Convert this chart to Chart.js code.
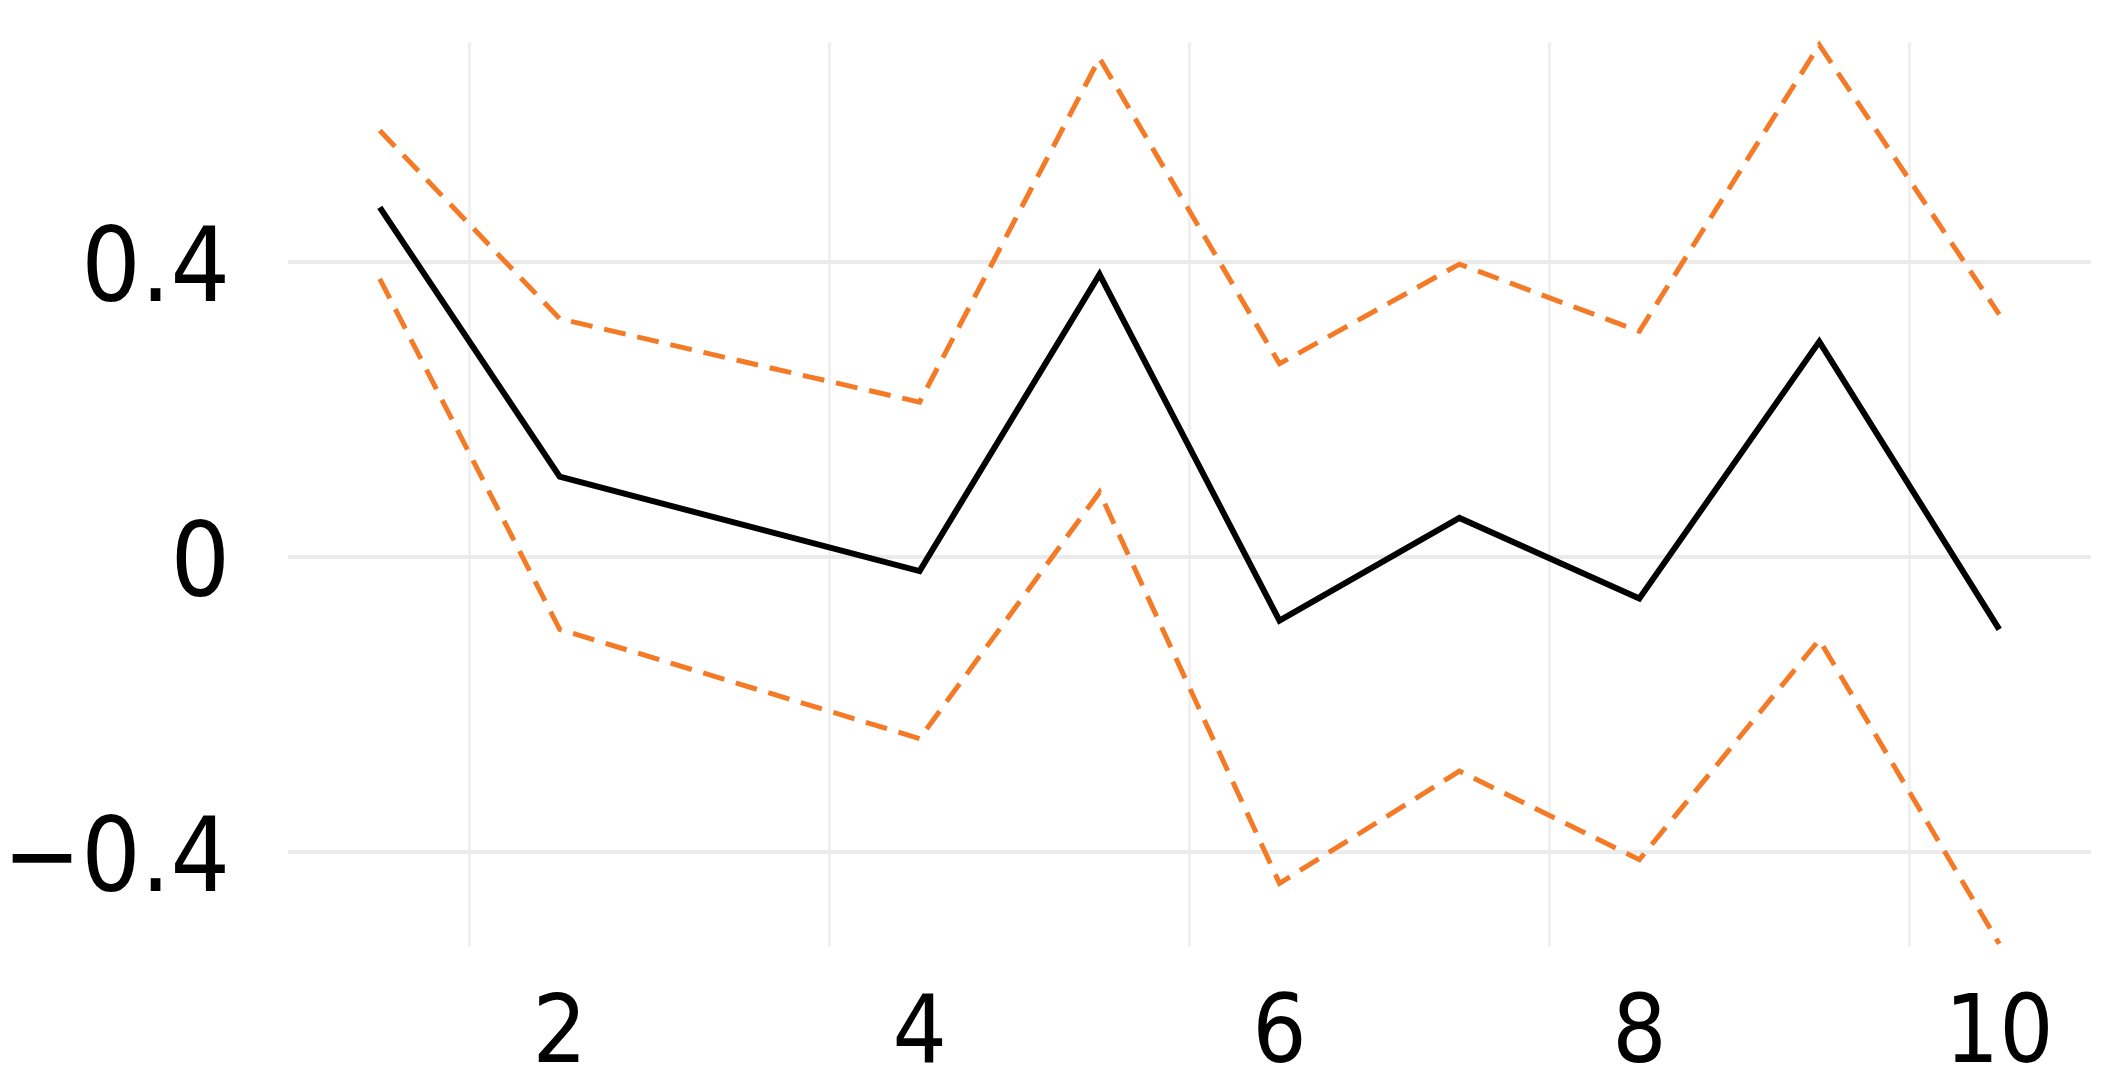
<!DOCTYPE html>
<html>
<head>
<meta charset="utf-8">
<script src="https://cdn.jsdelivr.net/npm/chart.js@4/dist/chart.umd.min.js"></script>
<style>
  html, body { margin: 0; padding: 0; background: #fff; }
  #wrap { width: 2124px; height: 1088px; }
</style>
</head>
<body>
<div id="wrap"><canvas id="chart"></canvas></div>
<script>
// Values
const xValues = [1, 2, 3, 4, 5, 6, 7, 8, 9, 10];
const estimate = [0.474, 0.109, 0.045, -0.019, 0.383, -0.086, 0.053, -0.056, 0.292, -0.098];
const upperBand = [0.578, 0.323, 0.266, 0.210, 0.676, 0.262, 0.397, 0.306, 0.694, 0.329];
const lowerBand = [0.377, -0.098, -0.172, -0.246, 0.088, -0.442, -0.290, -0.410, -0.112, -0.524];

const xTickLabels = [2, 4, 6, 8, 10];
const xGridLines = [1.5, 3.5, 5.5, 7.5, 9.5];
const yTickValues = [-0.4, 0, 0.4];

const ORANGE = "rgb(245,122,38)";
const FONT = "'Liberation Sans Narrow', 'DejaVu Sans Condensed', 'Liberation Sans', sans-serif";

function toPoints(ys) {
  return xValues.map((x, i) => ({ x: x, y: ys[i] }));
}

const ctx = document.getElementById("chart").getContext("2d");

new Chart(ctx, {
  type: "line",
  data: {
    datasets: [
      {
        label: "upper",
        data: toPoints(upperBand),
        borderColor: ORANGE,
        borderWidth: 5,
        borderDash: [22, 12],
        pointRadius: 0,
        fill: false,
      },
      {
        label: "lower",
        data: toPoints(lowerBand),
        borderColor: ORANGE,
        borderWidth: 5,
        borderDash: [22, 12],
        pointRadius: 0,
        fill: false,
      },
      {
        label: "estimate",
        data: toPoints(estimate),
        borderColor: "#000",
        borderWidth: 6,
        pointRadius: 0,
        fill: false,
      },
    ],
  },
  options: {
    responsive: true,
    maintainAspectRatio: false,
    animation: false,
    clip: false,
    layout: { padding: { top: 42, right: 33, left: 0, bottom: 0 } },
    plugins: {
      legend: { display: false },
      tooltip: { enabled: false },
    },
    scales: {
      x: {
        type: "linear",
        min: 0.49,
        max: 10.51,
        border: { display: false },
        afterBuildTicks: (scale) => {
          const all = xGridLines.concat(xTickLabels).sort((a, b) => a - b);
          scale.ticks = all.map((v) => ({ value: v }));
        },
        afterFit: (scale) => {
          scale.height = 142;
          scale.paddingLeft = 0;
          scale.paddingRight = 0;
        },
        grid: {
          drawTicks: false,
          lineWidth: 3,
          color: (c) => (xGridLines.includes(c.tick && c.tick.value) ? "#f0f0f0" : "rgba(0,0,0,0)"),
        },
        ticks: {
          autoSkip: false,
          maxRotation: 0,
          padding: 34,
          color: "#000",
          font: { family: FONT, size: 95 },
          callback: (v) => (xTickLabels.includes(v) ? String(v) : ""),
        },
      },
      y: {
        min: -0.527,
        max: 0.698,
        border: { display: false },
        afterBuildTicks: (scale) => {
          scale.ticks = yTickValues.map((v) => ({ value: v }));
        },
        afterFit: (scale) => {
          scale.width = 288;
          scale.paddingTop = 0;
          scale.paddingBottom = 0;
        },
        grid: {
          drawTicks: false,
          lineWidth: 4,
          color: "#ebebeb",
        },
        ticks: {
          padding: 58,
          labelOffset: 12,
          color: "#000",
          font: { family: FONT, size: 104 },
          callback: (v) => (v < 0 ? "\u2212" + Math.abs(v) : String(v)),
        },
      },
    },
  },
});
</script>
</body>
</html>
